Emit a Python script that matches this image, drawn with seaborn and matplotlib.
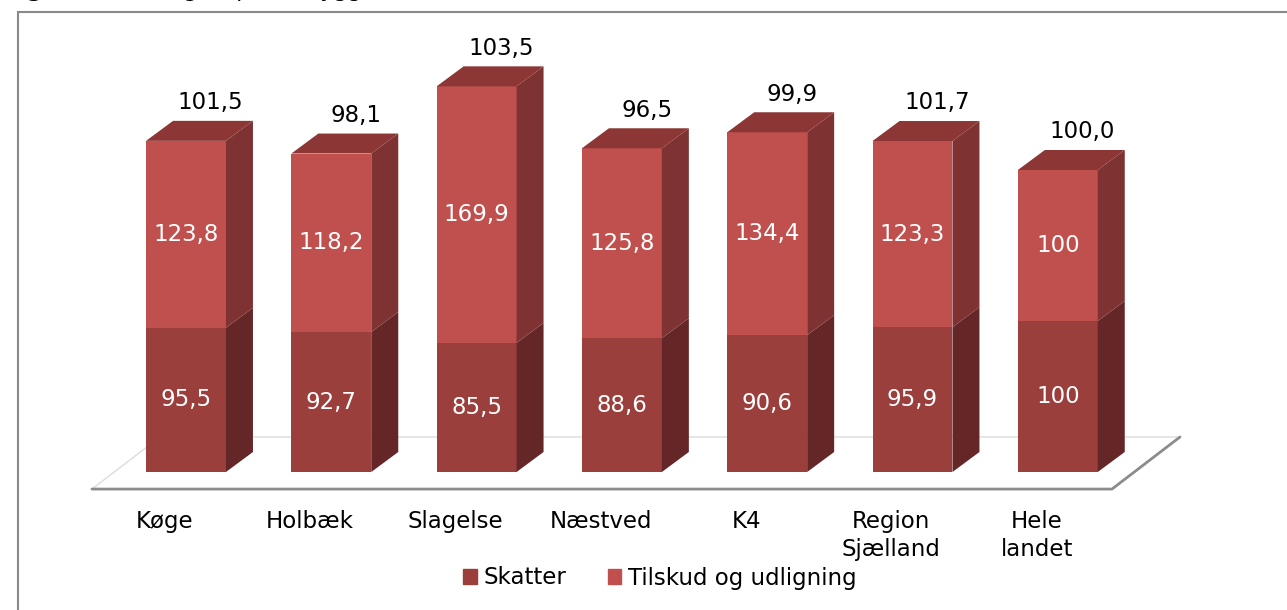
import matplotlib
matplotlib.use("Agg")
import matplotlib.pyplot as plt
from matplotlib.patches import Polygon, Rectangle, Patch
import seaborn as sns

# data (index values)
kommuner = ["Køge", "Holbæk", "Slagelse", "Næstved", "K4", "Region\nSjælland", "Hele\nlandet"]
skatter = [95.5, 92.7, 85.5, 88.6, 90.6, 95.9, 100.0]
tilskud = [123.8, 118.2, 169.9, 125.8, 134.4, 123.3, 100.0]
i_alt = [101.5, 98.1, 103.5, 96.5, 99.9, 101.7, 100.0]

c_skat = "#9b3f3d"
c_skat_side = "#652628"
c_til = "#c0504d"
c_til_side = "#7e3232"
c_top = "#8c3735"

def fmt(v, always_dec=False):
    if v == int(v) and not always_dec:
        return str(int(v))
    return f"{v:.1f}".replace(".", ",")

sns.set_theme(style="white")
plt.rcParams["font.family"] = ["DejaVu Sans"]
plt.rcParams["text.color"] = "black"
fs = 16.5

fig = plt.figure(figsize=(12.87, 6.10), dpi=100)
ax = fig.add_axes([0, 0, 1, 1])

totals = [s + t for s, t in zip(skatter, tilskud)]
sns.barplot(x=kommuner, y=totals, color=c_til, saturation=1, width=0.55,
            linewidth=0, ax=ax, zorder=3)
sns.barplot(x=kommuner, y=skatter, color=c_skat, saturation=1, width=0.55,
            linewidth=0, ax=ax, zorder=3)

# pixel-ish scale: one category = 145.3 px, one index unit = 1.51 px
XS, YS = 145.3, 1.51
ax.set_xlim(-186 / XS, (1287 - 186) / XS)
ax.set_ylim(-(610 - 472) / YS, 472 / YS)
ax.axis("off")
DX, DY = 27 / XS, 20 / YS

# floor
fl_x0, fl_x1 = -0.647, 6.373
fl_y0, fl_y1 = -11.3, 23.2
fdx = 0.468
floor = Polygon([(fl_x0, fl_y0), (fl_x1, fl_y0), (fl_x1 + fdx, fl_y1), (fl_x0 + fdx, fl_y1)],
                closed=True, fc="white", ec="none", zorder=1)
ax.add_patch(floor)
ax.plot([fl_x0, fl_x0 + fdx, fl_x1 + fdx], [fl_y0, fl_y1, fl_y1], color="#dcdcdc", lw=1, zorder=1.5)
ax.plot([fl_x0, fl_x1, fl_x1 + fdx], [fl_y0, fl_y0, fl_y1], color="#8c8c8c", lw=2, zorder=1.5)

bars_total = [p for p in ax.patches if p.get_facecolor()[:3] == matplotlib.colors.to_rgb(c_til)]
for i, p in enumerate(bars_total):
    xl = p.get_x()
    xr = xl + p.get_width()
    xc = xl + p.get_width() / 2
    s, t, tot = skatter[i], tilskud[i], totals[i]
    # side faces
    for y0, y1, col in [(0, s, c_skat_side), (s, tot, c_til_side)]:
        ax.add_patch(Polygon([(xr, y0), (xr + DX, y0 + DY), (xr + DX, y1 + DY), (xr, y1)],
                             closed=True, fc=col, ec="none", zorder=3))
    # top face
    ax.add_patch(Polygon([(xl, tot), (xl + DX, tot + DY), (xr + DX, tot + DY), (xr, tot)],
                         closed=True, fc=c_top, ec="none", zorder=3))
    # labels
    ax.text(xc, s / 2, fmt(s), color="white", ha="center", va="center", fontsize=fs, zorder=5)
    ax.text(xc, s + t / 2, fmt(t), color="white", ha="center", va="center", fontsize=fs, zorder=5)
    ax.text(xc + 0.17, tot + DY + 12, fmt(i_alt[i], True), color="black", ha="center",
            va="center", fontsize=fs, zorder=5)
    ax.text(xc - 0.145, -25, kommuner[i], color="black", ha="center", va="top",
            fontsize=fs, linespacing=1.3, zorder=5)

fig.legend(handles=[Patch(color=c_skat, label="Skatter"),
                    Patch(color=c_til, label="Tilskud og udligning")],
           loc="center", bbox_to_anchor=(660 / 1287, 1 - 578 / 610), ncol=2,
           frameon=False, fontsize=fs, handlelength=0.6, handleheight=0.6,
           handletextpad=0.3, columnspacing=1.8)

# outer frame and caption (cut off at the top edge, as in the source)
fig.add_artist(Rectangle((18 / 1287, -0.1), 1.2, 0.1 + (610 - 12) / 610,
                         transform=fig.transFigure, fill=False, ec="#8a8a8a", lw=1.5))
fig.text(0.003, 1 + 3 / 610, "Figur 3.3", fontsize=16, fontweight="bold", va="baseline")
fig.text(0.092, 1 + 3 / 610, "Indtægter pr. indbygger, indeks", fontsize=16, va="baseline")

fig.savefig("out.png", dpi=100)
